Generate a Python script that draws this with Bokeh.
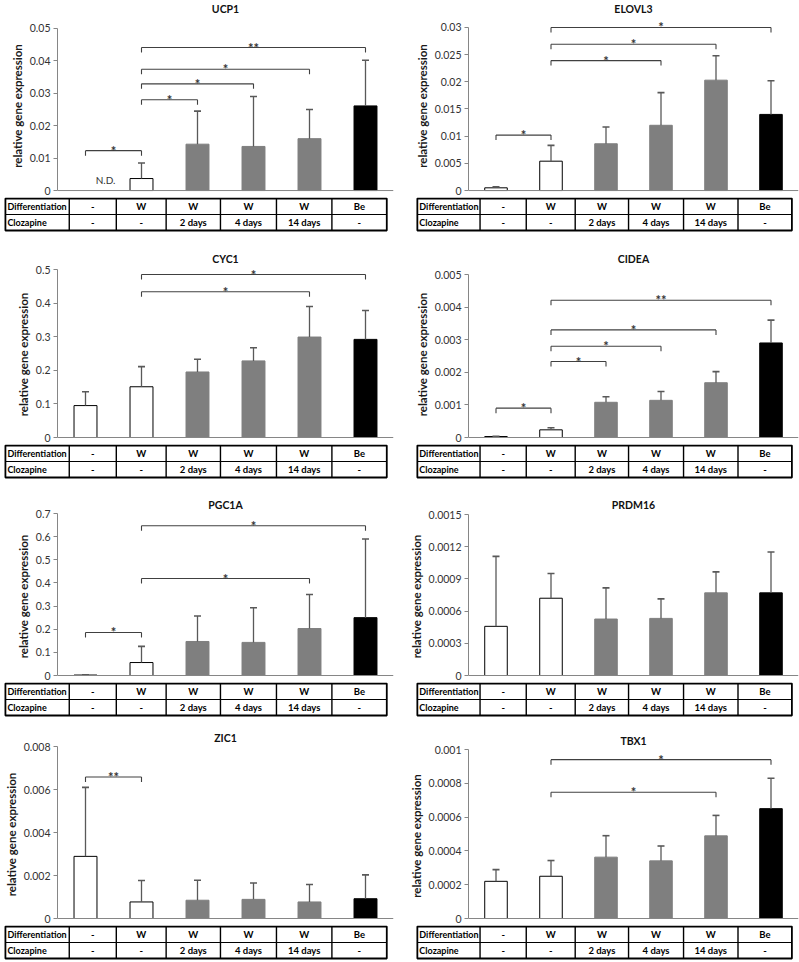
import math
from bokeh.plotting import figure
from bokeh.layouts import column, row
from bokeh.models import Range1d, FixedTicker, NumeralTickFormatter
from bokeh.core.properties import value
from bokeh.embed import file_html
from bokeh.resources import INLINE

FONT = "Lato"

# ---------------- data ----------------
GROUPS = [0, 1, 2, 3, 4, 5]
DIFFERENTIATION = ["-", "W", "W", "W", "W", "Be"]
CLOZAPINE = ["-", "-", "2 days", "4 days", "14 days", "-"]
ROW_LABELS = ["Differentiation", "Clozapine"]
BAR_FILL = ["#ffffff", "#ffffff", "#7f7f7f", "#7f7f7f", "#7f7f7f", "#000000"]
BAR_LINE = ["#000000", "#000000", "#7f7f7f", "#7f7f7f", "#7f7f7f", "#000000"]
NAN = float("nan")

UCP1_MEAN = [0.0, 0.0037, 0.0143, 0.0136, 0.0160, 0.0261]
UCP1_SD = [NAN, 0.0048, 0.0102, 0.0154, 0.0090, 0.0141]
UCP1_TICKS = [0, 0.01, 0.02, 0.03, 0.04, 0.05]
UCP1_TICK_LABELS = ["0", "0.01", "0.02", "0.03", "0.04", "0.05"]
UCP1_BRACKETS = [(0, 1, 0.0123, "*"), (1, 2, 0.0280, "*"), (1, 3, 0.0329, "*"),
                 (1, 4, 0.0374, "*"), (1, 5, 0.0441, "**")]

ELOVL3_MEAN = [0.0005, 0.0054, 0.0086, 0.0120, 0.0203, 0.0140]
ELOVL3_SD = [0.0002, 0.0029, 0.0031, 0.0060, 0.0045, 0.0062]
ELOVL3_TICKS = [0, 0.005, 0.01, 0.015, 0.02, 0.025, 0.03]
ELOVL3_TICK_LABELS = ["0", "0.005", "0.01", "0.015", "0.02", "0.025", "0.03"]
ELOVL3_BRACKETS = [(0, 1, 0.0102, "*"), (1, 3, 0.0239, "*"), (1, 4, 0.0269, "*"),
                   (1, 5, 0.0300, "*")]

CYC1_MEAN = [0.095, 0.151, 0.195, 0.228, 0.299, 0.292]
CYC1_SD = [0.041, 0.060, 0.038, 0.039, 0.091, 0.086]
CYC1_TICKS = [0, 0.1, 0.2, 0.3, 0.4, 0.5]
CYC1_TICK_LABELS = ["0", "0.1", "0.2", "0.3", "0.4", "0.5"]
CYC1_BRACKETS = [(1, 4, 0.434, "*"), (1, 5, 0.485, "*")]

CIDEA_MEAN = [0.00003, 0.000235, 0.00108, 0.00114, 0.00168, 0.0029]
CIDEA_SD = [0.00001, 0.000065, 0.00017, 0.00027, 0.00034, 0.0007]
CIDEA_TICKS = [0, 0.001, 0.002, 0.003, 0.004, 0.005]
CIDEA_TICK_LABELS = ["0", "0.001", "0.002", "0.003", "0.004", "0.005"]
CIDEA_BRACKETS = [(0, 1, 0.0009, "*"), (1, 2, 0.00233, "*"), (1, 3, 0.0028, "*"),
                  (1, 4, 0.0033, "*"), (1, 5, 0.00421, "**")]

PGC1A_MEAN = [0.002, 0.056, 0.147, 0.143, 0.203, 0.250]
PGC1A_SD = [0.001, 0.070, 0.110, 0.150, 0.147, 0.340]
PGC1A_TICKS = [0, 0.1, 0.2, 0.3, 0.4, 0.5, 0.6, 0.7]
PGC1A_TICK_LABELS = ["0", "0.1", "0.2", "0.3", "0.4", "0.5", "0.6", "0.7"]
PGC1A_BRACKETS = [(0, 1, 0.186, "*"), (1, 4, 0.419, "*"), (1, 5, 0.647, "*")]

PRDM16_MEAN = [0.000458, 0.00072, 0.000526, 0.000532, 0.00077, 0.00077]
PRDM16_SD = [0.000652, 0.00023, 0.00029, 0.000182, 0.000195, 0.00038]
PRDM16_TICKS = [0, 0.0003, 0.0006, 0.0009, 0.0012, 0.0015]
PRDM16_TICK_LABELS = ["0", "0.0003", "0.0006", "0.0009", "0.0012", "0.0015"]
PRDM16_BRACKETS = []

ZIC1_MEAN = [0.00289, 0.00077, 0.00085, 0.00089, 0.00077, 0.00092]
ZIC1_SD = [0.00321, 0.0010, 0.00093, 0.00076, 0.00081, 0.00111]
ZIC1_TICKS = [0, 0.002, 0.004, 0.006, 0.008]
ZIC1_TICK_LABELS = ["0", "0.002", "0.004", "0.006", "0.008"]
ZIC1_BRACKETS = [(0, 1, 0.00658, "**")]

TBX1_MEAN = [0.00022, 0.00025, 0.000363, 0.000341, 0.000489, 0.00065]
TBX1_SD = [0.000069, 0.000093, 0.000127, 0.000088, 0.000121, 0.00018]
TBX1_TICKS = [0, 0.0002, 0.0004, 0.0006, 0.0008, 0.001]
TBX1_TICK_LABELS = ["0", "0.0002", "0.0004", "0.0006", "0.0008", "0.001"]
TBX1_BRACKETS = [(1, 4, 0.000747, "*"), (1, 5, 0.00094, "*")]

# ---------------- layout / style ----------------
TABLE_EDGES = [-1.43, -0.29, 0.55, 1.44, 2.41, 3.41, 4.40, 5.38]
# (row top, row height, zero-line y) in page pixels
ROW_GEOM = [(0, 239, 190), (239, 242, 437), (481, 240, 675), (721, 239, 918)]

AXIS_COL = "#868686"
BRACKET_COL = "#404040"
ERR_COL = "#595959"
LABEL_FONT_SIZE = "9px"
CELL_FONT_SIZE = "9.5px"


def make_panel(name, mean, sd, ticks, tick_labels, brackets, geom, side,
               axis_len, pad, title_off, nd=False):
    T, H, Z = geom
    W = 400 if side == 0 else 399
    fl = 57 if side == 0 else 68
    brd = 7 if side == 0 else 1
    fw = W - fl - brd
    s = fw / 6.0
    ymax = ticks[-1]
    upp = ymax / axis_len
    below = 7
    frame_top = Z - axis_len - pad
    bh = Z + below - T
    p = figure(width=W, height=bh, x_range=Range1d(-0.5, 5.5),
               y_range=Range1d(-below * upp, ymax + pad * upp),
               output_backend="svg", toolbar_location=None, x_axis_location=None,
               min_border_left=fl, min_border_right=brd,
               min_border_top=frame_top - T, min_border_bottom=0)
    p.frame_align = False
    p.outline_line_color = None
    p.grid.grid_line_color = None
    p.background_fill_color = "white"
    p.title.text = name
    p.title.align = "center"
    p.title.text_font = FONT
    p.title.text_font_size = "10.5px"
    p.title.text_font_style = "bold"
    p.title.text_color = "#111111"
    p.title.standoff = 0
    p.title.offset = title_off

    ax = p.yaxis[0]
    ax.ticker = FixedTicker(ticks=ticks)
    ax.formatter = NumeralTickFormatter(format="0.[0000]")
    ax.major_label_overrides = {t: l for t, l in zip(ticks, tick_labels)}
    ax.bounds = (0, ymax)
    ax.axis_line_color = AXIS_COL
    ax.major_tick_line_color = AXIS_COL
    ax.major_tick_in = 0
    ax.major_tick_out = 4
    ax.minor_tick_line_color = None
    ax.major_label_text_font = FONT
    ax.major_label_text_font_size = "10.5px"
    ax.major_label_text_color = "#333333"
    ax.major_label_standoff = 3
    ax.axis_label = "relative gene expression"
    ax.axis_label_text_font = FONT
    ax.axis_label_text_font_size = "11.5px"
    ax.axis_label_text_font_style = "bold"
    ax.axis_label_text_color = "#1a1a1a"
    ax.axis_label_standoff = 3

    # bars
    bx = [g for g, m in zip(GROUPS, mean) if m > 0]
    bt = [m for m in mean if m > 0]
    bf = [c for c, m in zip(BAR_FILL, mean) if m > 0]
    bl = [c for c, m in zip(BAR_LINE, mean) if m > 0]
    p.vbar(x=bx, top=bt, width=0.41, fill_color=bf, line_color=bl, line_width=1)

    # error bars (upper only)
    cap = 3.5 / s
    ex = [g for g, d in zip(GROUPS, sd) if not math.isnan(d)]
    eb = [m for m, d in zip(mean, sd) if not math.isnan(d)]
    et = [m + d for m, d in zip(mean, sd) if not math.isnan(d)]
    p.segment(x0=ex, y0=eb, x1=ex, y1=et, line_color=ERR_COL, line_width=1.3)
    p.segment(x0=[x - cap for x in ex], y0=et, x1=[x + cap for x in ex], y1=et,
              line_color=ERR_COL, line_width=1.6)

    # baseline (x axis)
    p.segment(x0=[-0.5], y0=[0], x1=[5.5], y1=[0], line_color=AXIS_COL, line_width=1)

    if nd:
        p.text(x=[0], y=[0], text=["N.D."], x_offset=20, y_offset=-5,
               text_font=value(FONT), text_font_size="10px", text_color="#333333",
               text_align="center", text_baseline="bottom")

    # significance brackets
    if brackets:
        tick = 5 * upp
        b0 = [b[0] for b in brackets]
        b1 = [b[1] for b in brackets]
        by = [b[2] for b in brackets]
        bl_ = [b[3] for b in brackets]
        p.segment(x0=b0, y0=by, x1=b1, y1=by, line_color=BRACKET_COL, line_width=1.1)
        p.segment(x0=b0, y0=by, x1=b0, y1=[y - tick for y in by],
                  line_color=BRACKET_COL, line_width=1.1)
        p.segment(x0=b1, y0=by, x1=b1, y1=[y - tick for y in by],
                  line_color=BRACKET_COL, line_width=1.1)
        p.text(x=[(a + b) / 2 for a, b in zip(b0, b1)], y=by, text=bl_,
               y_offset=0, text_font=value(FONT), text_font_size="13px",
               text_font_style="bold", text_color="#333333",
               text_align="center", text_baseline="middle")

    # ---------- table ----------
    th = T + H - (Z + below)
    xs = -0.5 - fl / s
    xe = xs + W / s
    row_px = 16.0
    gap = 1
    ty1 = 2 + gap / row_px
    ty0 = ty1 - th / row_px
    t = figure(width=W, height=th, x_range=Range1d(xs, xe), y_range=Range1d(ty0, ty1),
               output_backend="svg", toolbar_location=None,
               x_axis_location=None, y_axis_location=None,
               min_border_left=0, min_border_right=0, min_border_top=0, min_border_bottom=0)
    t.frame_align = False
    t.outline_line_color = None
    t.grid.grid_line_color = None
    e = list(TABLE_EDGES)
    e[0] = max(e[0], xs + 2.0 / s)
    e[-1] = min(e[-1], xe - 2.0 / s)
    # inner lines
    t.segment(x0=e[1:-1], y0=[0] * (len(e) - 2), x1=e[1:-1], y1=[2] * (len(e) - 2),
              line_color="#000000", line_width=1.4)
    t.segment(x0=[e[0]], y0=[1], x1=[e[-1]], y1=[1], line_color="#000000", line_width=1)
    # outer border
    t.quad(left=[e[0]], right=[e[-1]], bottom=[0], top=[2], fill_color=None,
           line_color="#000000", line_width=1.8)
    # row labels
    t.text(x=[e[0], e[0]], y=[1.5, 0.5], text=ROW_LABELS, x_offset=2,
           text_font=value(FONT), text_font_size=LABEL_FONT_SIZE, text_font_style="bold",
           text_color="#000000", text_align="left", text_baseline="middle")
    cx = [(e[k + 1] + e[k + 2]) / 2 for k in range(6)]
    t.text(x=cx, y=[1.5] * 6, text=DIFFERENTIATION,
           text_font=value(FONT), text_font_size=CELL_FONT_SIZE, text_font_style="bold",
           text_color="#000000", text_align="center", text_baseline="middle")
    t.text(x=cx, y=[0.5] * 6, text=CLOZAPINE,
           text_font=value(FONT), text_font_size=CELL_FONT_SIZE, text_font_style="bold",
           text_color="#000000", text_align="center", text_baseline="middle")
    return column(p, t, spacing=0)


panels = [
    make_panel("UCP1", UCP1_MEAN, UCP1_SD, UCP1_TICKS, UCP1_TICK_LABELS, UCP1_BRACKETS,
               ROW_GEOM[0], 0, 163, 14, 8, nd=True),
    make_panel("ELOVL3", ELOVL3_MEAN, ELOVL3_SD, ELOVL3_TICKS, ELOVL3_TICK_LABELS,
               ELOVL3_BRACKETS, ROW_GEOM[0], 1, 164, 13, 24),
    make_panel("CYC1", CYC1_MEAN, CYC1_SD, CYC1_TICKS, CYC1_TICK_LABELS, CYC1_BRACKETS,
               ROW_GEOM[1], 0, 168, 5, 10),
    make_panel("CIDEA", CIDEA_MEAN, CIDEA_SD, CIDEA_TICKS, CIDEA_TICK_LABELS,
               CIDEA_BRACKETS, ROW_GEOM[1], 1, 163, 10, -3),
    make_panel("PGC1A", PGC1A_MEAN, PGC1A_SD, PGC1A_TICKS, PGC1A_TICK_LABELS,
               PGC1A_BRACKETS, ROW_GEOM[2], 0, 162, 3, -16),
    make_panel("PRDM16", PRDM16_MEAN, PRDM16_SD, PRDM16_TICKS, PRDM16_TICK_LABELS,
               PRDM16_BRACKETS, ROW_GEOM[2], 1, 161, 4, 3),
    make_panel("ZIC1", ZIC1_MEAN, ZIC1_SD, ZIC1_TICKS, ZIC1_TICK_LABELS, ZIC1_BRACKETS,
               ROW_GEOM[3], 0, 172, 3, 7),
    make_panel("TBX1", TBX1_MEAN, TBX1_SD, TBX1_TICKS, TBX1_TICK_LABELS, TBX1_BRACKETS,
               ROW_GEOM[3], 1, 169, 3, 17),
]

layout = column(
    row(panels[0], panels[1], spacing=0),
    row(panels[2], panels[3], spacing=0),
    row(panels[4], panels[5], spacing=0),
    row(panels[6], panels[7], spacing=0),
    spacing=0,
)

open("out.html", "w").write(file_html(layout, INLINE))
